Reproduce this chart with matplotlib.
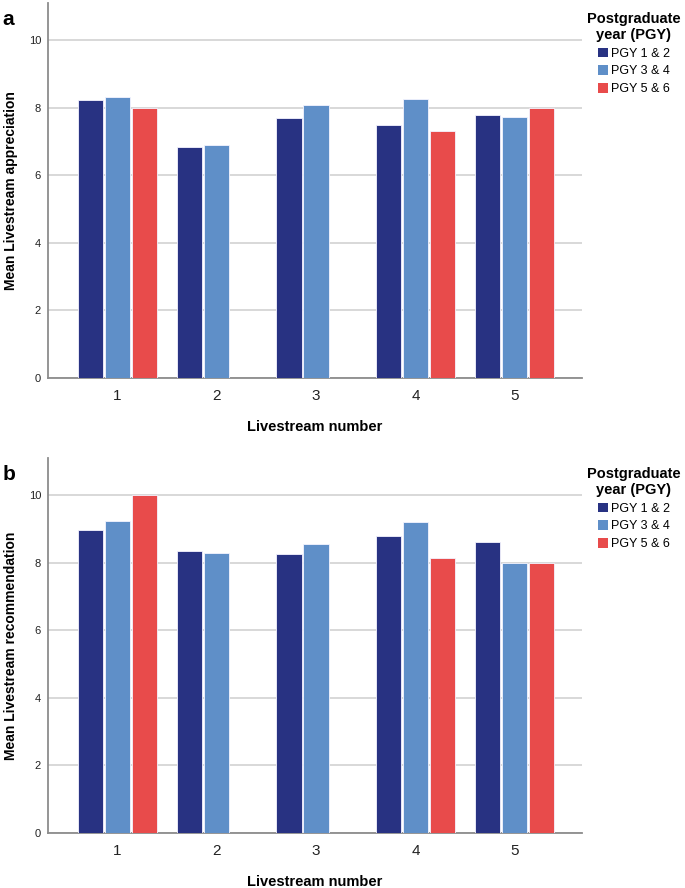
import numpy as np
import matplotlib
matplotlib.use("Agg")
import matplotlib.pyplot as plt
import matplotlib.transforms as mtransforms
from matplotlib.patches import Patch

plt.rcParams['font.family'] = ['Liberation Sans', 'DejaVu Sans']

streams = [1, 2, 3, 4, 5]
groups = ['PGY 1 & 2', 'PGY 3 & 4', 'PGY 5 & 6']
colors = ['#283282', '#5f8fc8', '#e84b4b']

# panel a: mean appreciation (nan = no respondents)
appr_pgy12 = [8.23, 6.84, 7.69, 7.49, 7.79]
appr_pgy34 = [8.32, 6.89, 8.07, 8.26, 7.74]
appr_pgy56 = [8.00, np.nan, np.nan, 7.30, 8.00]

# panel b: mean recommendation
rec_pgy12 = [8.97, 8.35, 8.27, 8.80, 8.60]
rec_pgy34 = [9.24, 8.30, 8.55, 9.21, 8.00]
rec_pgy56 = [10.00, np.nan, np.nan, 8.15, 8.00]

yticks = [0, 2, 4, 6, 8, 10]

fig = plt.figure(figsize=(6.85, 8.88), dpi=100)
ax_a = fig.add_axes([0.070, 0.5743, 0.780, 0.4223])
ax_b = fig.add_axes([0.070, 0.0619, 0.780, 0.4223])


def draw(ax, series, ylabel, letter):
    x = np.array(streams, dtype=float)
    offs = [-0.272, 0.0, 0.272]
    for vals, off, c in zip(series, offs, colors):
        ax.bar(x + off, vals, width=0.255, color=c, edgecolor='#f4f4ff',
               linewidth=0.6, zorder=3)
    ax.set_xlim(0.30, 5.68)
    ax.set_ylim(0, 11.1)
    ax.set_yticks(yticks)
    ax.set_xticks(streams)
    ax.set_xticklabels([str(s) for s in streams], fontsize=11, color='#222222')
    ax.tick_params(axis='y', length=0, pad=5, labelsize=8, labelcolor='#222222')
    ax.tick_params(axis='x', length=0, pad=8)
    ax.grid(axis='y', color='#d2d2d2', linewidth=1.2, zorder=0)
    for s in ['top', 'right']:
        ax.spines[s].set_visible(False)
    for s in ['left', 'bottom']:
        ax.spines[s].set_color('#8c8c8c')
        ax.spines[s].set_linewidth(1.3)
    ax.set_xlabel('Livestream number', fontsize=10.5, fontweight='bold', labelpad=12)
    ax.set_ylabel(ylabel, fontsize=10, fontweight='bold', labelpad=8)
    ax.text(-0.085, 0.955, letter, transform=ax.transAxes, fontsize=15,
            fontweight='bold', va='center', ha='left')
    handles = [Patch(facecolor=c, edgecolor='none', label=g)
               for c, g in zip(colors, groups)]
    # legend centred in the right margin
    trans = mtransforms.blended_transform_factory(fig.transFigure, ax.transAxes)
    leg = ax.legend(handles=handles, loc='upper center',
                    bbox_to_anchor=(634 / 685, 1.0), bbox_transform=trans,
                    frameon=False, fontsize=9, title='Postgraduate\nyear (PGY)',
                    title_fontproperties={'weight': 'bold', 'size': 10.5},
                    handlelength=0.8, handleheight=0.8, handletextpad=0.3,
                    labelspacing=0.45, borderpad=0.7, borderaxespad=0.0)
    leg._legend_box.align = 'center'
    leg.get_title().set_multialignment('center')


draw(ax_a, [appr_pgy12, appr_pgy34, appr_pgy56], 'Mean Livestream appreciation', 'a')
draw(ax_b, [rec_pgy12, rec_pgy34, rec_pgy56], 'Mean Livestream recommendation', 'b')

fig.savefig('out.png', dpi=100)
